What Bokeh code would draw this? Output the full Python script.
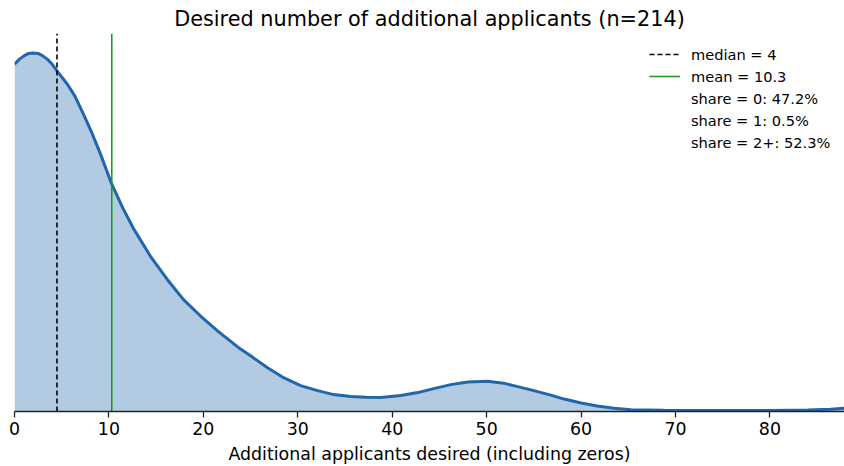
from bokeh.plotting import figure
from bokeh.models import Range1d, Legend, LegendItem
from bokeh.embed import file_html
from bokeh.resources import INLINE

# KDE curve (relative density heights)
x_vals = [0, 0.5, 1, 1.5, 2, 2.5, 3, 3.5, 4, 4.5, 5.6, 6.4, 7.3, 8.2, 9.1, 10.3,
          11.5, 12.6, 14.4, 16.2, 17.9, 19.7, 21.5, 23.9, 25, 26.8, 28.5, 30.3,
          32.1, 33.8, 35.6, 37.2, 38.8, 40.9, 42.7, 44.4, 46.2, 48, 50.1, 51.8,
          53.3, 55, 56.8, 58.2, 60, 61.7, 63.5, 65.3, 68.8, 75, 80, 84, 86.4, 87.9]
density = [349, 354, 357.5, 360, 360.5, 360, 357.5, 354, 349, 342.5, 329, 317,
           299, 280, 259, 228.5, 204, 184, 156, 132.5, 112.5, 96, 81, 63, 56, 44,
           34, 26, 21, 17, 15, 14.3, 14, 16, 19, 23, 27, 29.7, 30.5, 28.5, 25, 21,
           16.5, 12.5, 8.5, 5.5, 3.2, 1.8, 1.2, 1.0, 1.1, 1.6, 2.2, 3.2]

median_value = 4.5
mean_value = 10.3
share_labels = ["share = 0: 47.2%", "share = 1: 0.5%", "share = 2+: 52.3%"]
x_ticks = [0, 10, 20, 30, 40, 50, 60, 70, 80]
y_top = 380

FONT = "DejaVu Sans"
LINE_BLUE = "#2166ac"
GREEN = "#229a22"

p = figure(width=844, height=466, output_backend="svg", toolbar_location=None,
           x_range=Range1d(0, 87.9), y_range=Range1d(0, y_top),
           y_axis_location=None,
           min_border_left=14, min_border_right=0, min_border_top=33,
           min_border_bottom=53,
           title="Desired number of additional applicants (n=214)")
p.title.text_font = FONT
p.title.text_font_style = "normal"
p.title.text_font_size = "20.8px"
p.title.align = "center"
p.title.standoff = 5
p.title.text_color = "black"

p.outline_line_color = None
p.xgrid.visible = False
p.ygrid.visible = False
p.background_fill_color = "white"

ax = p.xaxis[0]
ax.ticker = x_ticks
ax.axis_label = "Additional applicants desired (including zeros)"
ax.axis_label_text_font = FONT
ax.axis_label_text_font_style = "normal"
ax.axis_label_text_font_size = "17.4px"
ax.axis_label_text_color = "black"
ax.axis_label_standoff = 6
ax.major_label_text_font = FONT
ax.major_label_text_font_size = "17.4px"
ax.major_label_text_color = "black"
ax.major_label_standoff = 4
ax.minor_tick_line_color = None
ax.major_tick_out = 6
ax.major_tick_in = 0
ax.axis_line_color = "#222222"
ax.axis_line_width = 1.3
ax.major_tick_line_color = "#222222"
ax.major_tick_line_width = 1.3

p.varea(x=x_vals, y1=0, y2=density, fill_color=LINE_BLUE, fill_alpha=0.35)
p.line(x_vals, density, line_color=LINE_BLUE, line_width=3)

r_med = p.line([median_value, median_value], [0, y_top], line_color="black",
               line_dash="5 3", line_width=1.6)
r_mean = p.line([mean_value, mean_value], [0, y_top], line_color=GREEN,
                line_width=1.6)
r_blank = p.line([-10, -9], [-10, -10], line_alpha=0)

items = [LegendItem(label=f"median = {median_value:.0f}", renderers=[r_med]),
         LegendItem(label=f"mean = {mean_value}", renderers=[r_mean])]
for s in share_labels:
    items.append(LegendItem(label=s, renderers=[r_blank]))

legend = Legend(items=items, location=(635, 258), border_line_alpha=0,
                background_fill_alpha=0, glyph_width=31, glyph_height=22,
                label_height=22, spacing=0, padding=0, margin=0,
                label_standoff=11, label_text_font=FONT,
                label_text_font_size="14.6px", label_text_color="black")
p.add_layout(legend)

open("out.html", "w").write(file_html(p, INLINE))
